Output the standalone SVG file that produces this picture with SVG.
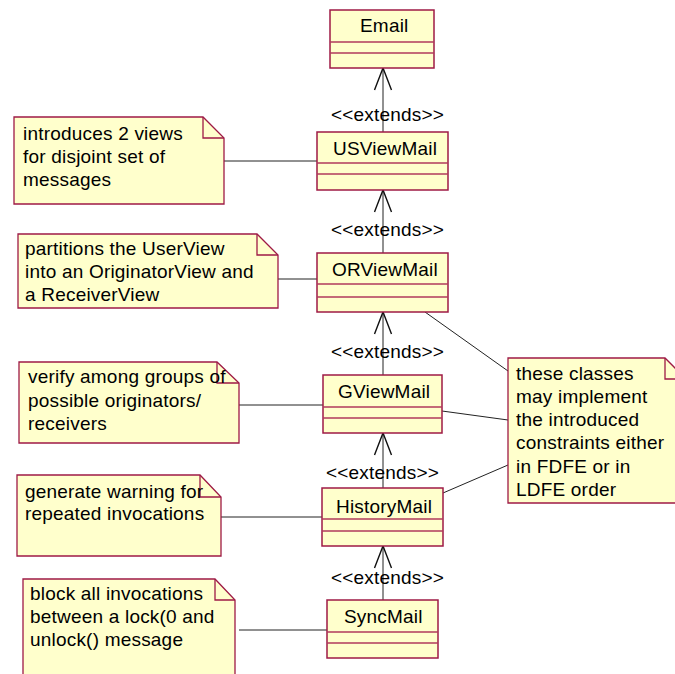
<svg xmlns="http://www.w3.org/2000/svg" width="675" height="674" viewBox="0 0 675 674">
  <style>
    text { font-family: "Liberation Sans", Arial, sans-serif; font-size: 19px; letter-spacing: 0.2px; fill: #000; }
    .box { fill: #FFFFCC; stroke: #9E1A45; stroke-width: 1.5; }
    .div { stroke: #B03A5C; stroke-width: 1.3; }
    .note { fill: #FFFFCC; stroke: #9E1A45; stroke-width: 1.3; }
    .fold { fill: none; stroke: #9E1A45; stroke-width: 1.3; }
    .link { stroke: #222; stroke-width: 1; fill: none; }
    .head { stroke: #111; stroke-width: 1.4; fill: none; }
  </style>
  <rect width="675" height="674" fill="#FFFFFF"/>

  <!-- connectors: note anchors, generalizations -->
  <g id="connectors">
    <line class="link" x1="224" y1="161" x2="317" y2="161"/>
    <line class="link" x1="278" y1="279" x2="317" y2="279"/>
    <line class="link" x1="239" y1="405" x2="323" y2="405"/>
    <line class="link" x1="221" y1="517" x2="322" y2="517"/>
    <line class="link" x1="239" y1="630" x2="327" y2="630"/>
    <line class="link" x1="425" y1="312" x2="508" y2="371"/>
    <line class="link" x1="442" y1="411" x2="508" y2="420"/>
    <line class="link" x1="443" y1="493" x2="508" y2="465"/>

    <line class="link" x1="383" y1="132" x2="383" y2="68"/>
    <polyline class="head" points="374.5,90 383,68 391.5,90"/>
    <line class="link" x1="383" y1="253" x2="383" y2="190"/>
    <polyline class="head" points="374.5,212 383,190 391.5,212"/>
    <line class="link" x1="383" y1="375" x2="383" y2="312"/>
    <polyline class="head" points="374.5,334 383,312 391.5,334"/>
    <line class="link" x1="383" y1="488" x2="383" y2="433"/>
    <polyline class="head" points="374.5,455 383,433 391.5,455"/>
    <line class="link" x1="383" y1="600" x2="383" y2="546"/>
    <polyline class="head" points="374.5,568 383,546 391.5,568"/>

    <text x="331" y="121">&lt;&lt;extends&gt;&gt;</text>
    <text x="331" y="236">&lt;&lt;extends&gt;&gt;</text>
    <text x="331" y="358">&lt;&lt;extends&gt;&gt;</text>
    <text x="326" y="479">&lt;&lt;extends&gt;&gt;</text>
    <text x="331" y="584">&lt;&lt;extends&gt;&gt;</text>
  </g>

  <!-- classes -->
  <g id="Email">
    <rect class="box" x="330" y="10" width="104" height="58"/>
    <line class="div" x1="330" y1="42" x2="434" y2="42"/>
    <line class="div" x1="330" y1="53" x2="434" y2="53"/>
    <text x="360" y="32">Email</text>
  </g>
  <g id="USViewMail">
    <rect class="box" x="317" y="132" width="131" height="58"/>
    <line class="div" x1="317" y1="163" x2="448" y2="163"/>
    <line class="div" x1="317" y1="174" x2="448" y2="174"/>
    <text x="333" y="155">USViewMail</text>
  </g>
  <g id="ORViewMail">
    <rect class="box" x="317" y="253" width="131" height="59"/>
    <line class="div" x1="317" y1="284" x2="448" y2="284"/>
    <line class="div" x1="317" y1="297" x2="448" y2="297"/>
    <text x="332" y="276">ORViewMail</text>
  </g>
  <g id="GViewMail">
    <rect class="box" x="323" y="375" width="119" height="58"/>
    <line class="div" x1="323" y1="407" x2="442" y2="407"/>
    <line class="div" x1="323" y1="418" x2="442" y2="418"/>
    <text x="338" y="398">GViewMail</text>
  </g>
  <g id="HistoryMail">
    <rect class="box" x="322" y="488" width="121" height="58"/>
    <line class="div" x1="322" y1="519" x2="443" y2="519"/>
    <line class="div" x1="322" y1="531" x2="443" y2="531"/>
    <text x="336" y="513">HistoryMail</text>
  </g>
  <g id="SyncMail">
    <rect class="box" x="327" y="600" width="111" height="58"/>
    <line class="div" x1="327" y1="632" x2="438" y2="632"/>
    <line class="div" x1="327" y1="643" x2="438" y2="643"/>
    <text x="344" y="623">SyncMail</text>
  </g>

  <!-- notes -->
  <g id="note-views">
    <path class="note" d="M14,117 H203 L224,138 V204 H14 Z"/>
    <polyline class="fold" points="203,117 203,138 224,138"/>
    <text x="23" y="140">introduces 2 views</text>
    <text x="23" y="163">for disjoint set of</text>
    <text x="23" y="186">messages</text>
  </g>
  <g id="note-partitions">
    <path class="note" d="M18,234 H257 L278,255 V308 H18 Z"/>
    <polyline class="fold" points="257,234 257,255 278,255"/>
    <text x="25" y="255">partitions the UserView</text>
    <text x="25" y="278">into an OriginatorView and</text>
    <text x="25" y="301">a ReceiverView</text>
  </g>
  <g id="note-groups">
    <path class="note" d="M19,362 H217 L239,383 V443 H19 Z"/>
    <polyline class="fold" points="217,362 217,383 239,383"/>
    <text x="28" y="383">verify among groups of</text>
    <text x="28" y="407">possible originators/</text>
    <text x="28" y="430">receivers</text>
  </g>
  <g id="note-warning">
    <path class="note" d="M17,475 H200 L221,497 V556 H17 Z"/>
    <polyline class="fold" points="200,475 200,497 221,497"/>
    <text x="25" y="498">generate warning for</text>
    <text x="25" y="520">repeated invocations</text>
  </g>
  <g id="note-lock">
    <path class="note" d="M23,579 H215 L235,600 V680 H23 Z"/>
    <polyline class="fold" points="215,579 215,600 235,600"/>
    <text x="30" y="600">block all invocations</text>
    <text x="30" y="623">between a lock(0 and</text>
    <text x="30" y="646">unlock() message</text>
  </g>
  <g id="note-order">
    <path class="note" d="M508,358 H665 L686,379 V503 H508 Z"/>
    <polyline class="fold" points="665,358 665,379 686,379"/>
    <text x="516" y="380">these classes</text>
    <text x="516" y="403">may implement</text>
    <text x="516" y="426">the introduced</text>
    <text x="516" y="449">constraints either</text>
    <text x="516" y="473">in FDFE or in</text>
    <text x="516" y="496">LDFE order</text>
  </g>
</svg>
